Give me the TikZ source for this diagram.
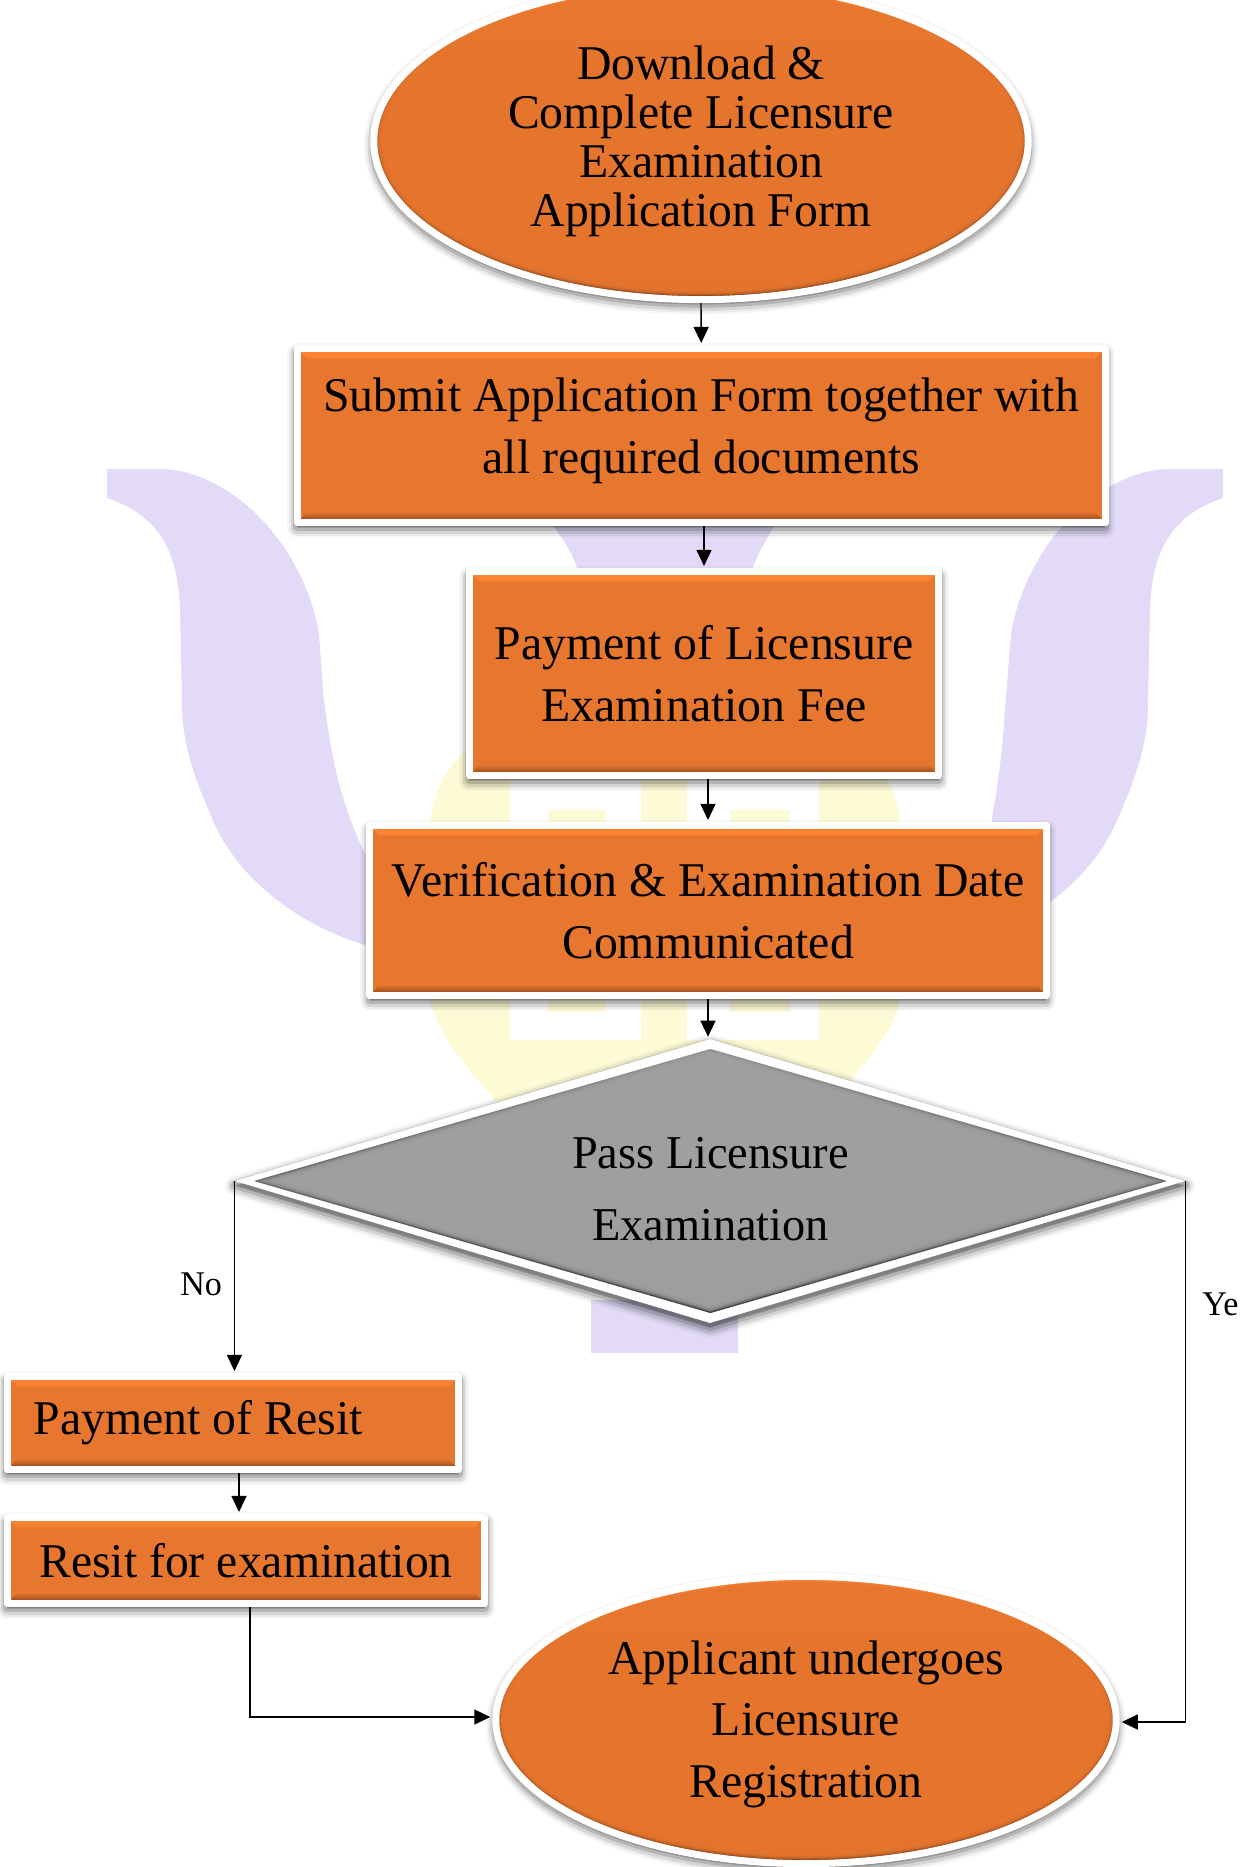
\documentclass[tikz,border=0pt]{standalone}
\usepackage{fontspec}
\setmainfont[FakeStretch=0.985]{Liberation Serif}
\usetikzlibrary{arrows.meta,shapes.geometric,shadows,calc}
\definecolor{mainorange}{HTML}{E7762F}
\definecolor{bevellight}{HTML}{FF8434}
\definecolor{beveldark}{HTML}{7E4018}
\definecolor{decidegrey}{HTML}{A0A0A0}
\definecolor{psililac}{HTML}{E2DAF6}
\definecolor{shieldyellow}{HTML}{FDFBD6}
\def\pb{path picture bounding box}
\tikzset{
  softshadow/.style={
    drop shadow={shadow xshift=0in,shadow yshift=-0.05in,fill=black,draw=black,line join=round,line width=0.20in,opacity=.03},
    drop shadow={shadow xshift=0in,shadow yshift=-0.05in,fill=black,draw=black,line join=round,line width=0.16in,opacity=.05},
    drop shadow={shadow xshift=0in,shadow yshift=-0.05in,fill=black,draw=black,line join=round,line width=0.12in,opacity=.09},
    drop shadow={shadow xshift=0in,shadow yshift=-0.04in,fill=black,draw=black,line join=round,line width=0.08in,opacity=.15}},
  flowbox/.style={rectangle,draw=white,line width=0.07in,line join=round,fill=mainorange,softshadow,
    align=center,inner sep=0pt,font=\fontsize{35}{44.4}\selectfont,
    path picture={
      \shade[top color=bevellight,bottom color=mainorange] (\pb.north west) -- (\pb.north east) -- ([shift={(-10,10)}]\pb.north east) -- ([shift={(10,10)}]\pb.north west) -- cycle;
      \shade[top color=mainorange,bottom color=beveldark] (\pb.south west) -- (\pb.south east) -- ([shift={(-10,-11)}]\pb.south east) -- ([shift={(10,-11)}]\pb.south west) -- cycle;
    }},
  flowround/.style 2 args={ellipse,draw=white,line width=0.07in,fill=mainorange,softshadow,
    align=center,inner sep=0pt,font=\fontsize{35}{44.4}\selectfont,
    minimum width=#1*0.02in,minimum height=#2*0.02in,
    path picture={
      \shade[top color=bevellight,middle color=mainorange,bottom color=beveldark] (\pb.south west) rectangle (\pb.north east);
      \foreach \d in {4,5,6,7,8,9,10}
        \fill[mainorange,opacity=.45] (\pb.center) ellipse [x radius={(#1-\d)*0.01in},y radius={(#2-\d)*0.01in}];
    }},
  flowlabel/.style={anchor=base west,inner sep=0pt,font=\fontsize{25}{25}\selectfont},
  flowarrow/.style={->,line width=0.014in,shorten >=0.02in},
  >={Triangle[length=0.16in,width=0.15in]},
}
\begin{document}
\begin{tikzpicture}[x=0.01in, y=-0.01in]
  \clip (0,0) rectangle (1242,1867);
  % watermark
  \fill[shieldyellow] (470,745) .. controls (445,770) and (430,795) .. (430,830) -- (430,1000) .. controls (440,1040) and (470,1070) .. (491,1095) -- (560,1200) -- (790,1200) -- (855,1075) .. controls (880,1045) and (895,1025) .. (900,1000) -- (900,830) .. controls (900,795) and (885,770) .. (860,745) -- cycle;
  \fill[white] (510,770) rectangle (641,1040);
  \fill[white] (687,770) rectangle (819,1040);
  \fill[shieldyellow] (548,810) rectangle (605,1012);
  \fill[shieldyellow] (730,810) rectangle (790,1012);
  \fill[psililac] (107,469) -- (163,469) .. controls (230,472) and (300,540) .. (318,628) .. controls (322,660) and (322,690) .. (325,707) .. controls (335,790) and (355,840) .. (380,880) -- (380,950) -- (362,944) .. controls (300,925) and (240,880) .. (215,825) .. controls (195,780) and (182,745) .. (182,703) -- (180,608) .. controls (178,560) and (165,517) .. (107,498) -- cycle;
  \fill[psililac] (1223,469) -- (1167,469) .. controls (1100,472) and (1030,540) .. (1012,628) .. controls (1008,660) and (1008,680) .. (1005,707) .. controls (1002,760) and (997,790) .. (990,830) -- (950,950) -- (968,944) .. controls (1030,925) and (1090,880) .. (1115,825) .. controls (1135,780) and (1148,745) .. (1148,703) -- (1150,608) .. controls (1152,560) and (1165,517) .. (1223,498) -- cycle;
  \fill[psililac] (549,520) .. controls (560,535) and (575,555) .. (579,575) -- (751,575) .. controls (755,555) and (770,535) .. (777,520) -- cycle;
  \fill[psililac] (591,1300) rectangle (738,1353);
  % steps
  \node[flowround={327}{158.5},font=\fontsize{35}{35.4}\selectfont] (download) at (701,141) {Download \&\\Complete Licensure\\Examination\\Application Form};
  \node[flowbox,minimum width=8.075in,minimum height=1.74in] (submit) at (701.25,435.5) {Submit Application Form together with\\all required documents\rule[-0.2in]{0pt}{0pt}};
  \node[flowbox,minimum width=4.69in,minimum height=2.04in] (paybox) at (704,673.5) {Payment of Licensure\\Examination Fee};
  \node[flowbox,minimum width=6.765in,minimum height=1.70in] (verify) at (708,910.5) {Verification \& Examination Date\\Communicated};
  % decision
  \node[diamond,fill=white,softshadow,inner sep=0pt,minimum width=9.50in,minimum height=2.84in] (decide) at (710,1181) {};
  \node[diamond,fill=decidegrey,inner sep=0pt,minimum width=9.12in,minimum height=2.64in,
    path picture={
      \shade[top color=black!42,middle color=black!58,bottom color=black!75] (\pb.south west) rectangle (\pb.north east);
      \foreach \k in {.99,.98,.97,.96,.95,.94}
        \fill[decidegrey,opacity=.5] ($(\pb.center)!\k!(\pb.west)$) -- ($(\pb.center)!\k!(\pb.north)$) -- ($(\pb.center)!\k!(\pb.east)$) -- ($(\pb.center)!\k!(\pb.south)$) -- cycle;
    }] (decidecore) at (710.5,1181) {};
  \node[align=center,inner sep=0pt,font=\fontsize{34}{52}\selectfont] (decidetext) at (710.5,1189) {Pass Licensure\\Examination};
  \node[flowbox,minimum width=4.51in,minimum height=0.93in] (resitpay) at (233,1423) {\makebox[3.98in][l]{Payment of Resit}};
  \node[flowbox,minimum width=4.77in,minimum height=0.86in] (retake) at (246,1560.5) {Resit for examination};
  \node[flowround={310}{143.5}] (regdone) at (806,1720) {\rule{0pt}{0.42in}Applicant undergoes\\Licensure\\Registration};
  % branch labels
  \node[flowlabel] (nolabel) at (180,1295) {No};
  \node[flowlabel] (yeslabel) at (1202,1315) {Ye};
  % connectors
  \draw[flowarrow] (download.south) -- (submit.north);
  \draw[flowarrow] (submit.south -| paybox) -- (paybox.north);
  \draw[flowarrow] (paybox.south -| verify) -- (verify.north);
  \draw[flowarrow] (verify.south) -- (verify.south |- decide.north);
  \draw[flowarrow] (decide.west) -- (decide.west |- resitpay.north);
  \draw[flowarrow] ([xshift=0.06in]resitpay.south) -- ([xshift=0.06in]resitpay.south |- retake.north);
  \draw[flowarrow] ([xshift=0.04in]retake.south) |- ([yshift=0.03in]regdone.west);
  \draw[flowarrow] (decide.east) |- ([yshift=-0.02in]regdone.east);
\end{tikzpicture}
\end{document}
